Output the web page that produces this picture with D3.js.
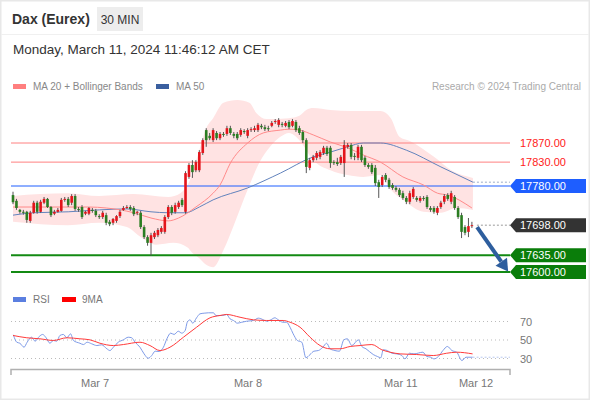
<!DOCTYPE html>
<html><head><meta charset="utf-8">
<script src="https://cdn.jsdelivr.net/npm/d3@7"></script>
<style>body{margin:0;background:#fff;} svg text{font-family:"Liberation Sans",Arial,sans-serif;}</style>
</head><body><svg id="c" width="590" height="400"></svg>
<script>
// ---------- DATA ----------
const candleOpen = [17761,17749,17730,17726,17726,17707,17724,17745,17726,17745,
17753,17736,17722,17726,17728,17751,17753,17745,17759,17732,
17736,17722,17722,17730,17728,17717,17715,17719,17705,17703,
17707,17717,17730,17734,17736,17734,17724,17724,17694,17673,
17661,17673,17677,17684,17684,17715,17736,17726,17736,17751,
17726,17799,17824,17813,17813,17849,17897,17885,17876,17891,
17880,17889,17889,17901,17889,17889,17887,17895,17885,17897,
17897,17897,17906,17903,17901,17906,17914,17908,17910,17906,
17914,17906,17914,17901,17893,17876,17818,17834,17839,17841,
17849,17860,17860,17830,17830,17828,17828,17862,17866,17843,
17839,17862,17839,17824,17824,17818,17788,17782,17803,17793,
17782,17776,17772,17765,17755,17747,17757,17755,17749,17755,
17757,17734,17734,17724,17736,17747,17761,17747,17757,17734,
17719,17694,17684,17696];
const candleClose = [17746,17734,17726,17724,17709,17724,17745,17726,17747,17753,
17736,17719,17726,17730,17751,17753,17740,17759,17732,17730,
17715,17726,17734,17728,17719,17715,17724,17703,17700,17711,
17717,17726,17734,17736,17732,17721,17726,17694,17673,17661,
17677,17682,17688,17692,17715,17736,17724,17740,17745,17740,
17807,17824,17809,17830,17851,17876,17876,17880,17897,17880,
17889,17887,17901,17891,17885,17880,17897,17893,17897,17899,
17901,17908,17903,17899,17899,17912,17916,17918,17908,17912,
17903,17916,17897,17891,17876,17820,17834,17841,17849,17851,
17860,17847,17828,17828,17826,17841,17866,17866,17841,17841,
17862,17834,17824,17820,17809,17786,17778,17799,17793,17778,
17776,17772,17761,17755,17747,17765,17774,17751,17755,17753,
17736,17730,17726,17734,17745,17759,17753,17765,17734,17715,
17684,17682,17696,17698];
const candleHigh = [17768,17753,17732,17730,17728,17728,17749,17749,17751,17757,
17755,17738,17730,17734,17755,17757,17757,17763,17763,17736,
17740,17728,17736,17734,17732,17721,17728,17724,17709,17713,
17719,17730,17738,17740,17740,17738,17728,17728,17698,17677,
17682,17686,17692,17696,17719,17740,17740,17745,17749,17755,
17811,17828,17834,17834,17855,17880,17901,17891,17901,17895,
17893,17893,17906,17906,17893,17893,17901,17899,17901,17903,
17906,17912,17910,17908,17906,17916,17920,17922,17914,17916,
17918,17920,17918,17906,17897,17880,17839,17845,17853,17855,
17864,17864,17864,17834,17839,17845,17876,17870,17870,17849,
17866,17866,17843,17828,17828,17824,17793,17803,17807,17797,
17786,17780,17776,17770,17759,17770,17778,17759,17759,17759,
17761,17738,17738,17738,17749,17763,17765,17770,17761,17738,
17724,17698,17713,17705];
const candleLow = [17742,17730,17722,17720,17703,17703,17722,17722,17724,17742,
17734,17715,17719,17724,17726,17747,17736,17740,17728,17726,
17711,17719,17719,17724,17715,17711,17711,17698,17696,17698,
17703,17713,17728,17732,17728,17717,17719,17690,17669,17655,
17634,17669,17673,17680,17680,17711,17719,17722,17732,17736,
17722,17795,17797,17809,17809,17845,17862,17876,17872,17876,
17876,17883,17885,17887,17880,17876,17883,17889,17880,17893,
17893,17893,17899,17895,17895,17903,17910,17903,17903,17903,
17899,17903,17893,17887,17870,17807,17813,17830,17834,17836,
17845,17843,17818,17824,17822,17824,17799,17858,17836,17834,
17834,17830,17820,17816,17805,17780,17755,17778,17788,17774,
17772,17768,17757,17751,17742,17742,17753,17747,17745,17749,
17732,17726,17722,17719,17732,17742,17749,17742,17730,17711,
17671,17677,17673,17692];

// moving averages & bands (read at candle-index positions)
const ma20Idx = [0,6,16,22,27,35,40,45,48,53,58,60,63,68,72.5,77.5,80,83,87,92,97,101.5,106.5,113,119,123,126,133];
const ma20Val = [17736,17736,17736,17736,17734,17724,17713,17707,17713,17736,17765,17782,17828,17870,17891,17897,17899,17897,17887,17872,17860,17845,17830,17799,17782,17765,17761,17734];
const ma50Idx = [0,6,16,25,33,40,45,50,54,58,68,77.5,87,92,97,101.5,106.5,114,124,133.3];
const ma50Val = [17719,17724,17726,17730,17732,17726,17724,17724,17736,17751,17776,17807,17841,17851,17862,17870,17870,17855,17820,17788];
const bbUpIdx = [0,8,16,25,35,45,48.5,51,54,56,58,61,65,68.5,70.5,73.5,80,83,85,87,92,98,106.5,109.5,112,115,122,127,133.3];
const bbUpVal = [17759,17763,17765,17759,17763,17757,17765,17788,17855,17901,17922,17954,17960,17954,17933,17920,17922,17927,17939,17943,17939,17937,17937,17922,17883,17874,17841,17813,17797];
const bbLoIdx = [0,8,16,25,33,37,41.5,46.5,50.5,52,54,56,58,61,64,68,71.5,74.5,77.5,80,83,87,92,97,101.5,106.5,109.5,113,119,124,128.5,133.3];
const bbLoVal = [17705,17700,17698,17703,17694,17673,17657,17661,17652,17640,17629,17615,17610,17646,17698,17772,17830,17862,17883,17891,17876,17834,17813,17803,17799,17803,17772,17751,17726,17724,17734,17730];

// RSI panel
const rsiIdx = [0.1,1.1,2,3.2,4.1,5.4,6.4,7.6,8.6,9.6,10.7,11.7,12.7,13.6,14.6,15.6,16.7,17.5,19.4,20.4,21.5,22.8,24.3,25.7,27.2,28.1,29.1,30.5,32,33.4,34.4,35.4,36.8,38,39.2,40.2,41.2,42.4,43.6,44.6,45.7,46.7,47.9,48.9,49.9,50.5,51.3,52.1,53.2,54.2,55.4,56.6,58.1,58.8,60.8,61.9,62.9,63.9,65,66.3,67.7,69.7,71.1,72.6,73.5,74.7,75.9,76.9,78.2,79.3,80.3,81.2,82.4,83.7,84.9,86.1,87.2,88.5,89.8,90.9,91.9,93.3,94.6,95.9,96.9,98.2,100.1,101.1,102.3,104.4,105.6,106.6,107.3,108.5,109.8,111.2,112.7,113.6,114.9,116.2,118.8,119.9,121.1,122,123.3,124.6,125.9,127.2,128.6,130.1,131.3,133.2];
const rsiVal = [55.6,47.6,46.5,42.2,47.6,53,48.7,53.8,56,52.4,46.5,49.5,48.7,54.9,56,52.4,56.7,49.5,46.5,45.1,47.6,45.9,44,44.8,40.5,38.6,42.2,47.6,50.2,53,52.4,47.6,42.2,35,30.3,33.2,37.9,37.6,42.2,51.3,57.4,56,59.5,57.4,60.3,69.2,71.8,68.2,74,78.3,79,79.4,79.4,76.5,76.5,77.6,72.9,71.1,68.2,69.2,70.3,71.1,73.6,71.8,70.3,71.8,74,71.8,69.2,69.2,63.8,56.7,49.5,47.6,30.8,34.3,37.9,38.6,42.2,46.5,40.5,38.6,37.9,50.2,51.3,44,50.2,43,40.5,34.3,32.2,30.8,39.4,38.6,35.7,35,33.2,29.6,35.7,35,36.8,32.2,31.4,29.6,32.2,38.6,43,38.6,36.8,27.8,31.4,31.4];
const ma9Idx = [0,4,7.8,11.7,15.6,19.4,22.3,25.2,29.1,32,36.8,39.7,42.6,45.5,49.4,53.2,57.1,60,61.9,65.8,69.7,73.5,78.3,80.3,83.2,86.1,89,91.9,94.8,97.7,100.6,104,106.9,109.3,112.2,117,121.8,125.7,128.6,133.2];
const ma9Val = [54.9,52.4,51.3,49.5,52.4,51.3,50.2,46.5,44,45.1,47.6,44,38.6,42.2,53,63.8,74,76.5,77.6,74.6,71.8,71.1,71.1,69.2,63.8,53,44,40.5,40.5,43,44,45.1,39.4,36.8,35,34.3,33.2,35.7,36.8,35];
const rsiTicks = [70,50,30];

// levels & axis
const levelVals = [17870,17830,17780,17698,17635,17600];
const levelKind = ["res","res","blue","last","sup","sup"];
const dateLabels = ["Mar 7","Mar 8","Mar 11","Mar 12"];
const dateIdx = [23.8,68.1,112.4,134.2];
const arrowFrom = [134.5,17694];
const arrowTo = [143.5,17601];

// ---------- DRAW ----------
const svg = d3.select('#c');
const x = d3.scaleLinear().domain([0,133]).range([13,471.9]);
const y = d3.scaleLinear().domain([17600,17870]).range([272,143]);
const yr = d3.scaleLinear().domain([30,70]).range([358.5,321.5]);
const XL = 11, XR = 510;

svg.append('rect').attr('x',0.5).attr('y',0.5).attr('width',589).attr('height',399)
  .attr('fill','#fff').attr('stroke','#e8e8e8').attr('stroke-width',2);
svg.append('line').attr('x1',1).attr('x2',589).attr('y1',34.5).attr('y2',34.5).attr('stroke','#f0f0f0');

// header
svg.append('text').attr('x',12).attr('y',24).attr('font-size',14).attr('font-weight','bold').attr('fill','#333').text('Dax (Eurex)');
svg.append('rect').attr('x',97).attr('y',7).attr('width',46).attr('height',24).attr('fill','#ededed');
svg.append('text').attr('x',120).attr('y',23.5).attr('text-anchor','middle').attr('font-size',12).attr('fill','#333').text('30 MIN');
svg.append('text').attr('x',13).attr('y',53.5).attr('font-size',13.5).attr('fill','#333').text('Monday, March 11, 2024 11:46:12 AM CET');

// legend
svg.append('rect').attr('x',13).attr('y',84).attr('width',13).attr('height',5).attr('fill','#ff7f7f');
svg.append('text').attr('x',33).attr('y',89.5).attr('font-size',10).attr('fill','#888').text('MA 20 + Bollinger Bands');
svg.append('rect').attr('x',156).attr('y',84).attr('width',13).attr('height',5).attr('fill','#3a5f9f');
svg.append('text').attr('x',176).attr('y',89.5).attr('font-size',10).attr('fill','#888').text('MA 50');
svg.append('text').attr('x',581).attr('y',89.5).attr('text-anchor','end').attr('font-size',10).attr('fill','#aaa').text('Research \u00A9 2024 Trading Central');

// bollinger band fill
const upPts = bbUpIdx.map((d,i)=>[x(d),y(bbUpVal[i])]);
const loPts = bbLoIdx.map((d,i)=>[x(d),y(bbLoVal[i])]);
const lineGen = d3.line().curve(d3.curveMonotoneX);
const upPath = lineGen(upPts);
const loBack = d3.line().curve(d3.curveMonotoneX)(loPts.map(p=>[-p[0],p[1]]).reverse());
svg.append('path').attr('d', upPath + ' L' + loPts[loPts.length-1].join(',') + ' ' +
  loBack.replace(/M/,'L').replace(/(-?\d+\.?\d*),(-?\d+\.?\d*)/g,(m,a,b)=>(-a)+','+b))
  .attr('fill','#ffe3e3').attr('stroke','none');

// level lines
levelVals.forEach((v,i)=>{
  const k = levelKind[i];
  if(k==='last') return;
  const col = k==='res' ? '#ff8080' : k==='blue' ? '#1e5eff' : '#138a13';
  svg.append('line').attr('x1',XL).attr('x2',XR).attr('y1',y(v)).attr('y2',y(v))
    .attr('stroke',col).attr('stroke-width',k==='sup'?2:1);
});

// MA lines
svg.append('path').attr('d',lineGen(ma50Idx.map((d,i)=>[x(d),y(ma50Val[i])]))).attr('fill','none').attr('stroke','#6283bd').attr('stroke-width',1);
svg.append('path').attr('d',lineGen(ma20Idx.map((d,i)=>[x(d),y(ma20Val[i])]))).attr('fill','none').attr('stroke','#ff8a8a').attr('stroke-width',1);
svg.append('line').attr('x1',x(ma50Idx[ma50Idx.length-1])).attr('x2',XR).attr('y1',y(ma50Val[ma50Val.length-1])).attr('y2',y(ma50Val[ma50Val.length-1]))
  .attr('stroke','#9aabc8').attr('stroke-dasharray','2,2');
const lastI = candleClose.length-1;
svg.append('line').attr('x1',x(lastI)+5).attr('x2',XR).attr('y1',y(levelVals[3])).attr('y2',y(levelVals[3]))
  .attr('stroke','#999').attr('stroke-dasharray','2,2');

// candles
const bw = 2.6;
const cg = svg.append('g');
candleClose.forEach((c,i)=>{
  const o = candleOpen[i], cx = x(i);
  const up = c >= o;
  cg.append('line').attr('x1',cx).attr('x2',cx).attr('y1',y(candleHigh[i])).attr('y2',y(candleLow[i]))
    .attr('stroke','#555').attr('stroke-width',1);
  const top = y(Math.max(o,c)), bot = y(Math.min(o,c));
  cg.append('rect').attr('x',cx-bw/2).attr('y',top).attr('width',bw).attr('height',Math.max(1,bot-top))
    .attr('fill', up ? '#e3141b' : '#2b7d22');
});

// arrow
(function(){
  const x1=x(arrowFrom[0]), y1=y(arrowFrom[1]), x2=x(arrowTo[0]), y2=y(arrowTo[1]);
  const dx=x2-x1, dy=y2-y1, L=Math.hypot(dx,dy), ux=dx/L, uy=dy/L;
  const hl=12, hw=7;
  const bx=x2-ux*hl, by=y2-uy*hl;
  svg.append('line').attr('x1',x1).attr('y1',y1).attr('x2',bx).attr('y2',by).attr('stroke','#2e5e9e').attr('stroke-width',4);
  svg.append('path').attr('d',`M${x2},${y2} L${bx-uy*hw},${by+ux*hw} L${bx+uy*hw},${by-ux*hw} Z`).attr('fill','#2e5e9e');
})();

// level labels
levelVals.forEach((v,i)=>{
  const k = levelKind[i], cy = y(v);
  if(k!=='res'){
    const col = k==='blue' ? '#1e5eff' : k==='last' ? '#333333' : '#0a7d0a';
    svg.append('path').attr('d',`M${XR},${cy} L${XR+6},${cy-7} L586,${cy-7} L586,${cy+7} L${XR+6},${cy+7} Z`).attr('fill',col);
  }
  svg.append('text').attr('x',520).attr('y',cy+4).attr('font-size',11)
    .attr('fill', k==='res' ? '#ff1a1a' : '#fff').text(d3.format('.2f')(v));
});

// RSI panel
svg.append('rect').attr('x',13).attr('y',297).attr('width',13).attr('height',5).attr('fill','#5b7fe0');
svg.append('text').attr('x',33).attr('y',302.5).attr('font-size',10).attr('fill','#777').text('RSI');
svg.append('rect').attr('x',62).attr('y',297).attr('width',14).attr('height',5).attr('fill','#ff0000');
svg.append('text').attr('x',82).attr('y',302.5).attr('font-size',10).attr('fill','#777').text('9MA');
rsiTicks.forEach(t=>{
  svg.append('line').attr('x1',XL).attr('x2',508).attr('y1',yr(t)).attr('y2',yr(t))
    .attr('stroke','#bbb').attr('stroke-dasharray','1,3');
  svg.append('text').attr('x',520).attr('y',yr(t)+4).attr('font-size',11).attr('fill','#777').text(t);
});
svg.append('path').attr('d',d3.line().curve(d3.curveMonotoneX)(rsiIdx.map((d,i)=>[x(d),yr(rsiVal[i])])))
  .attr('fill','none').attr('stroke','#7e9be8').attr('stroke-width',1);
svg.append('line').attr('x1',x(rsiIdx[rsiIdx.length-1])).attr('x2',XR).attr('y1',yr(rsiVal[rsiVal.length-1])).attr('y2',yr(rsiVal[rsiVal.length-1]))
  .attr('stroke','#b8c8f0').attr('stroke-dasharray','2,2');
svg.append('path').attr('d',d3.line().curve(d3.curveMonotoneX)(ma9Idx.map((d,i)=>[x(d),yr(ma9Val[i])])))
  .attr('fill','none').attr('stroke','#ff3b3b').attr('stroke-width',1);

// x axis
const xa = svg.append('g');
xa.append('path').attr('d',`M${XL},375 V369.5 H${XR} V375`).attr('fill','none').attr('stroke','#b0b0b0').attr('stroke-width',1.5);
dateLabels.forEach((l,i)=>{
  xa.append('text').attr('x',x(dateIdx[i])).attr('y',387).attr('text-anchor','middle').attr('font-size',11).attr('fill','#777').text(l);
});
</script></body></html>
